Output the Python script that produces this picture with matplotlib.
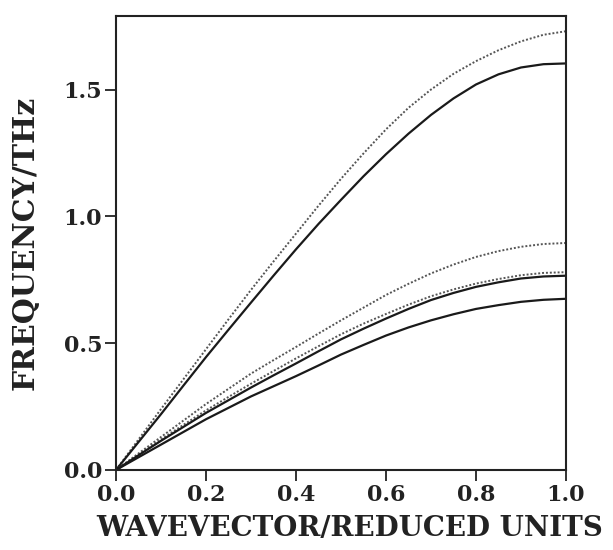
import numpy as np
import matplotlib
matplotlib.use('Agg')
import matplotlib.pyplot as plt

matplotlib.rc('font', family='DejaVu Serif', weight='bold')

# reduced wavevector
q = [0.00, 0.05, 0.10, 0.15, 0.20, 0.25, 0.30, 0.35, 0.40, 0.45, 0.50,
     0.55, 0.60, 0.65, 0.70, 0.75, 0.80, 0.85, 0.90, 0.95, 1.00]

# upper branch: dotted and solid
upper_dot = [0.0, 0.12, 0.24, 0.358, 0.476, 0.594, 0.71, 0.822, 0.932, 1.042, 1.148,
             1.248, 1.343, 1.428, 1.50, 1.562, 1.612, 1.655, 1.69, 1.716, 1.730]
upper_sol = [0.0, 0.11, 0.22, 0.333, 0.445, 0.553, 0.66, 0.766, 0.87, 0.97, 1.065,
             1.158, 1.245, 1.326, 1.40, 1.465, 1.52, 1.56, 1.587, 1.600, 1.603]

# lower branches
lowA_dot = [0.0, 0.065, 0.13, 0.195, 0.26, 0.32, 0.38, 0.433, 0.485, 0.538, 0.59,
            0.64, 0.69, 0.734, 0.775, 0.81, 0.84, 0.863, 0.88, 0.891, 0.895]
lowB_dot = [0.0, 0.06, 0.12, 0.178, 0.235, 0.288, 0.34, 0.39, 0.44, 0.488, 0.535,
            0.577, 0.615, 0.652, 0.685, 0.712, 0.735, 0.753, 0.768, 0.777, 0.780]
lowC_sol = [0.0, 0.058, 0.115, 0.17, 0.225, 0.275, 0.325, 0.373, 0.42, 0.468, 0.515,
            0.557, 0.597, 0.635, 0.67, 0.698, 0.722, 0.74, 0.755, 0.763, 0.766]
lowD_sol = [0.0, 0.05, 0.10, 0.15, 0.20, 0.245, 0.29, 0.33, 0.37, 0.412, 0.455,
            0.493, 0.53, 0.562, 0.59, 0.614, 0.635, 0.65, 0.663, 0.671, 0.675]

xticks = [0.0, 0.2, 0.4, 0.6, 0.8, 1.0]
yticks = [0.0, 0.5, 1.0, 1.5]

fig = plt.figure(figsize=(6.13, 5.5), dpi=100)
ax = fig.add_axes([0.1892, 0.1455, 0.7341, 0.8254])

dot = dict(color='#555555', lw=1.4, linestyle=(0, (1, 1)))
sol = dict(color='#1a1a1a', lw=1.6)

ax.plot(q, upper_dot, **dot)
ax.plot(q, upper_sol, **sol)
ax.plot(q, lowA_dot, **dot)
ax.plot(q, lowB_dot, **dot)
ax.plot(q, lowC_sol, **sol)
ax.plot(q, lowD_sol, **sol)

ax.set_xlim(0, 1.0)
ax.set_ylim(0, 1.79)
ax.set_xticks(xticks)
ax.set_yticks(yticks)
ax.set_xticklabels(['%.1f' % v for v in xticks])
ax.set_yticklabels(['%.1f' % v for v in yticks])
ax.tick_params(direction='out', length=8, width=1.3, labelsize=16, pad=2,
               colors='#222222')
for s in ax.spines.values():
    s.set_linewidth(1.5)
    s.set_color('#222222')

ax.set_xlabel('WAVEVECTOR/REDUCED UNITS', fontsize=20, fontweight='bold',
              color='#222222')
ax.set_ylabel('FREQUENCY/THz', fontsize=21.5, fontweight='bold',
              color='#222222')
ax.xaxis.set_label_coords(0.52, -0.1, transform=ax.transAxes)
ax.yaxis.set_label_coords(-0.17, 0.5, transform=ax.transAxes)

fig.savefig('out.png', dpi=100)
